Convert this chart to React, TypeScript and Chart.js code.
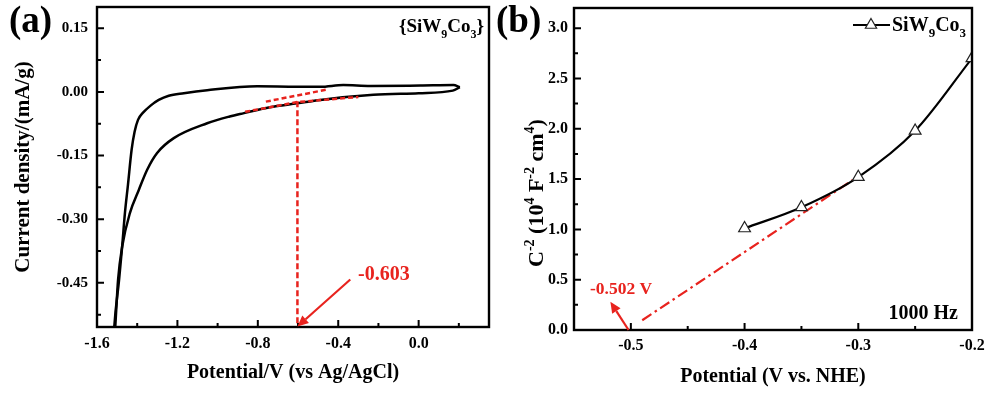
import React, { useEffect, useRef } from 'react';
import { Chart, registerables } from 'chart.js';

Chart.register(...registerables);

const SERIF = "'Liberation Serif', 'Times New Roman', Times, serif";
const INK = '#000000';
const RED = '#e8231e';

// ---------- (a) cyclic voltammogram ----------
// cathodic (forward) sweep: lower branch, listed by increasing potential
const cathodicPotential = [
  -1.516, -1.51, -1.495, -1.475, -1.436, -1.392, -1.351, -1.301, -1.218, -1.052, -0.94,
  -0.869, -0.74, -0.604, -0.49, -0.225, 0.0, 0.17, 0.205,
];
const cathodicCurrent = [
  -0.6, -0.56, -0.442, -0.365, -0.285, -0.231, -0.184, -0.144, -0.109, -0.074, -0.058,
  -0.05, -0.036, -0.027, -0.019, -0.007, -0.003, 0.003, 0.011,
];
// anodic (return) sweep: upper branch
const anodicPotential = [
  -1.519, -1.515, -1.49, -1.475, -1.461, -1.446, -1.428, -1.413, -1.396, -1.371, -1.335,
  -1.293, -1.243, -1.168, -1.052, -0.803, -0.604, -0.489, -0.375, -0.24, 0.009, 0.173, 0.205,
];
const anodicCurrent = [
  -0.6, -0.56, -0.442, -0.365, -0.285, -0.219, -0.137, -0.094, -0.066, -0.049, -0.033,
  -0.019, -0.009, -0.003, 0.004, 0.013, 0.012, 0.012, 0.016, 0.014, 0.015, 0.016, 0.011,
];
const tangentLowPotential = [-0.863, -0.604, -0.3];
const tangentLowCurrent = [-0.047, -0.024, -0.012];
const tangentHighPotential = [-0.76, -0.46];
const tangentHighCurrent = [-0.023, 0.005];
const onsetPotential = -0.603;
const onsetDropCurrent = [-0.022, -0.56];
const onsetArrowTail = { x: -0.34, y: -0.442 };
const onsetArrowHeadCurrent = -0.553;
const cvXTicks = [-1.6, -1.2, -0.8, -0.4, 0.0];
const cvXMinor = [-1.4, -1.0, -0.6, -0.2, 0.2];
const cvYTicks = [-0.45, -0.3, -0.15, 0.0, 0.15];
const cvYMinor = [-0.525, -0.375, -0.225, -0.075, 0.075];

// ---------- (b) Mott–Schottky ----------
const msPotential = [-0.4, -0.35, -0.3, -0.25, -0.2];
const msC2 = [1.01, 1.22, 1.52, 1.98, 2.7];
const fitPotential = [-0.49, -0.305];
const fitC2 = [0.097, 1.49];
const flatbandPotential = -0.502;
const flatbandArrowHead = { x: -0.518, y: 0.28 };
const msXTicks = [-0.5, -0.4, -0.3, -0.2];
const msXMinor = [-0.55, -0.45, -0.35, -0.25];
const msYTicks = [0, 0.5, 1.0, 1.5, 2.0, 2.5, 3.0];
const msYMinor = [0.25, 0.75, 1.25, 1.75, 2.25, 2.75];

type Run = { t: string; sub?: boolean; sup?: boolean };

function drawRuns(
  ctx: CanvasRenderingContext2D,
  runs: Run[],
  x: number,
  y: number,
  size: number,
  color: string,
  align: 'left' | 'right' | 'center',
) {
  const small = Math.round(size * 0.65);
  const fontOf = (r: Run) => `bold ${r.sub || r.sup ? small : size}px ${SERIF}`;
  let total = 0;
  for (const r of runs) {
    ctx.font = fontOf(r);
    total += ctx.measureText(r.t).width;
  }
  let cx = align === 'left' ? x : align === 'right' ? x - total : x - total / 2;
  ctx.fillStyle = color;
  ctx.textAlign = 'left';
  ctx.textBaseline = 'alphabetic';
  for (const r of runs) {
    ctx.font = fontOf(r);
    const dy = r.sub ? size * 0.3 : r.sup ? -size * 0.4 : 0;
    ctx.fillText(r.t, cx, y + dy);
    cx += ctx.measureText(r.t).width;
  }
}

function drawArrow(ctx: CanvasRenderingContext2D, x1: number, y1: number, x2: number, y2: number, color: string) {
  const ang = Math.atan2(y2 - y1, x2 - x1);
  const head = 11;
  const half = 5;
  const bx = x2 - Math.cos(ang) * head;
  const by = y2 - Math.sin(ang) * head;
  ctx.save();
  ctx.strokeStyle = color;
  ctx.fillStyle = color;
  ctx.lineWidth = 2.2;
  ctx.beginPath();
  ctx.moveTo(x1, y1);
  ctx.lineTo(bx, by);
  ctx.stroke();
  ctx.beginPath();
  ctx.moveTo(x2, y2);
  ctx.lineTo(bx + Math.sin(ang) * half, by - Math.cos(ang) * half);
  ctx.lineTo(bx - Math.sin(ang) * half, by + Math.cos(ang) * half);
  ctx.closePath();
  ctx.fill();
  ctx.restore();
}

// box frame plus inward-pointing major/minor tick marks on the bottom and left axes
function frameTicks(xMajor: number[], xMinor: number[], yMajor: number[], yMinor: number[]) {
  return {
    id: 'frameTicks',
    afterDraw(chart: any) {
      const { ctx, chartArea: a, scales } = chart;
      const xs = scales.x;
      const ys = scales.y;
      ctx.save();
      ctx.strokeStyle = INK;
      ctx.lineWidth = 2.4;
      ctx.strokeRect(a.left, a.top, a.right - a.left, a.bottom - a.top);
      ctx.lineWidth = 2;
      ctx.beginPath();
      const xMark = (v: number, len: number) => {
        const p = xs.getPixelForValue(v);
        if (p <= a.left + 1 || p >= a.right - 1) return;
        ctx.moveTo(p, a.bottom);
        ctx.lineTo(p, a.bottom - len);
      };
      const yMark = (v: number, len: number) => {
        const p = ys.getPixelForValue(v);
        if (p <= a.top + 1 || p >= a.bottom - 1) return;
        ctx.moveTo(a.left, p);
        ctx.lineTo(a.left + len, p);
      };
      xMajor.forEach((v) => xMark(v, 7));
      xMinor.forEach((v) => xMark(v, 4));
      yMajor.forEach((v) => yMark(v, 7));
      yMinor.forEach((v) => yMark(v, 4));
      ctx.stroke();
      ctx.restore();
    },
  };
}

const boldFont = (size: number) => ({ family: SERIF, size, weight: 'bold' as const });

function cvConfig(): any {
  const pts = (xs: number[], ys: number[]) => xs.map((x, i) => ({ x, y: ys[i] }));
  const annotate = {
    id: 'cvNotes',
    afterDraw(chart: any) {
      const { ctx, scales } = chart;
      const xs = scales.x;
      const ys = scales.y;
      ctx.save();
      drawRuns(ctx, [{ t: '(a)' }], 9, 32, 37, INK, 'left');
      drawRuns(ctx, [{ t: '{SiW' }, { t: '9', sub: true }, { t: 'Co' }, { t: '3', sub: true }, { t: '}' }], 484, 32, 19, INK, 'right');
      drawArrow(
        ctx,
        xs.getPixelForValue(onsetArrowTail.x),
        ys.getPixelForValue(onsetArrowTail.y),
        xs.getPixelForValue(onsetPotential),
        ys.getPixelForValue(onsetArrowHeadCurrent),
        RED,
      );
      drawRuns(ctx, [{ t: onsetPotential.toFixed(3) }], 358, 280, 20, RED, 'left');
      ctx.restore();
    },
  };
  const branch = (xs: number[], ys: number[]) => ({
    data: pts(xs, ys),
    showLine: true,
    borderColor: INK,
    borderWidth: 2.5,
    pointRadius: 0,
    cubicInterpolationMode: 'monotone',
  });
  const dashed = (data: { x: number; y: number }[], dash: number[]) => ({
    data,
    showLine: true,
    borderColor: RED,
    borderWidth: 2.5,
    borderDash: dash,
    pointRadius: 0,
  });
  return {
    type: 'scatter',
    data: {
      datasets: [
        dashed(pts(tangentLowPotential, tangentLowCurrent), [5, 3]),
        dashed(pts(tangentHighPotential, tangentHighCurrent), [5, 3]),
        dashed(onsetDropCurrent.map((y) => ({ x: onsetPotential, y })), [6, 3]),
        branch(cathodicPotential, cathodicCurrent),
        branch(anodicPotential, anodicCurrent),
      ],
    },
    options: {
      responsive: false,
      animation: false,
      devicePixelRatio: 1,
      events: [],
      layout: { padding: { left: 0, right: 6, top: 7, bottom: 0 } },
      plugins: { legend: { display: false }, tooltip: { enabled: false } },
      scales: {
        x: {
          type: 'linear',
          min: -1.6,
          max: 0.35,
          afterBuildTicks: (s: any) => {
            s.ticks = cvXTicks.map((value) => ({ value }));
          },
          afterFit: (s: any) => {
            s.height = 69;
            s.paddingLeft = 0;
            s.paddingRight = 0;
          },
          grid: { display: false, drawTicks: false },
          border: { display: false },
          ticks: {
            callback: (v: any) => Number(v).toFixed(1),
            font: boldFont(16),
            color: INK,
            padding: 7,
            maxRotation: 0,
            autoSkip: false,
          },
          title: {
            display: true,
            text: 'Potential/V (vs Ag/AgCl)',
            font: boldFont(20),
            color: INK,
            padding: { top: 0, bottom: 11 },
          },
        },
        y: {
          type: 'linear',
          min: -0.554,
          max: 0.2,
          afterBuildTicks: (s: any) => {
            s.ticks = cvYTicks.map((value) => ({ value }));
          },
          afterFit: (s: any) => {
            s.width = 97;
            s.paddingTop = 0;
            s.paddingBottom = 0;
          },
          grid: { display: false, drawTicks: false },
          border: { display: false },
          ticks: {
            callback: (v: any) => Number(v).toFixed(2),
            font: boldFont(15),
            color: INK,
            padding: 9,
            autoSkip: false,
          },
          title: {
            display: true,
            text: 'Current density/(mA/g)',
            font: boldFont(21),
            color: INK,
            padding: { top: 11, bottom: 0 },
          },
        },
      },
    },
    plugins: [frameTicks(cvXTicks, cvXMinor, cvYTicks, cvYMinor), annotate],
  };
}

function msConfig(): any {
  const pts = (xs: number[], ys: number[]) => xs.map((x, i) => ({ x, y: ys[i] }));
  const annotate = {
    id: 'msNotes',
    afterDraw(chart: any) {
      const { ctx, scales } = chart;
      const xs = scales.x;
      const ys = scales.y;
      ctx.save();
      drawRuns(ctx, [{ t: '(b)' }], 1, 32, 37, INK, 'left');

      // legend entry
      const ly = 25;
      ctx.strokeStyle = INK;
      ctx.lineWidth = 2;
      ctx.beginPath();
      ctx.moveTo(358, ly);
      ctx.lineTo(395, ly);
      ctx.stroke();
      const r = 6.5;
      const cx = 376;
      ctx.beginPath();
      ctx.moveTo(cx, ly - r);
      ctx.lineTo(cx + r * 0.866, ly + r / 2);
      ctx.lineTo(cx - r * 0.866, ly + r / 2);
      ctx.closePath();
      ctx.fillStyle = '#ffffff';
      ctx.fill();
      ctx.lineWidth = 1.2;
      ctx.strokeStyle = '#222222';
      ctx.stroke();
      drawRuns(ctx, [{ t: 'SiW' }, { t: '9', sub: true }, { t: 'Co' }, { t: '3', sub: true }], 397, 31, 20, INK, 'left');

      drawRuns(ctx, [{ t: '1000 Hz' }], 463, 319, 20, INK, 'right');

      drawArrow(
        ctx,
        xs.getPixelForValue(flatbandPotential),
        ys.getPixelForValue(0),
        xs.getPixelForValue(flatbandArrowHead.x),
        ys.getPixelForValue(flatbandArrowHead.y),
        RED,
      );
      drawRuns(ctx, [{ t: `${flatbandPotential.toFixed(3)} V` }], 95, 294, 17.5, RED, 'left');

      // rotated y-axis title with superscripts
      ctx.save();
      ctx.translate(48, 193);
      ctx.rotate(-Math.PI / 2);
      drawRuns(
        ctx,
        [
          { t: 'C' },
          { t: '-2', sup: true },
          { t: ' (10' },
          { t: '4', sup: true },
          { t: ' F' },
          { t: '-2', sup: true },
          { t: ' cm' },
          { t: '4', sup: true },
          { t: ')' },
        ],
        0,
        0,
        22,
        INK,
        'center',
      );
      ctx.restore();
      ctx.restore();
    },
  };
  return {
    type: 'scatter',
    data: {
      datasets: [
        {
          data: pts(msPotential, msC2),
          showLine: true,
          borderColor: INK,
          borderWidth: 2.2,
          cubicInterpolationMode: 'monotone',
          pointStyle: 'triangle',
          pointRadius: 6.8,
          pointBackgroundColor: '#ffffff',
          pointBorderColor: '#222222',
          pointBorderWidth: 1.2,
        },
        {
          data: pts(fitPotential, fitC2),
          showLine: true,
          borderColor: RED,
          borderWidth: 2.2,
          borderDash: [11, 4, 2.5, 4],
          pointRadius: 0,
        },
      ],
    },
    options: {
      responsive: false,
      animation: false,
      devicePixelRatio: 1,
      events: [],
      layout: { padding: { left: 0, right: 18, top: 7, bottom: 0 } },
      plugins: { legend: { display: false }, tooltip: { enabled: false } },
      scales: {
        x: {
          type: 'linear',
          min: -0.55,
          max: -0.2,
          afterBuildTicks: (s: any) => {
            s.ticks = msXTicks.map((value) => ({ value }));
          },
          afterFit: (s: any) => {
            s.height = 66;
            s.paddingLeft = 0;
            s.paddingRight = 0;
          },
          grid: { display: false, drawTicks: false },
          border: { display: false },
          ticks: {
            callback: (v: any) => Number(v).toFixed(1),
            font: boldFont(16),
            color: INK,
            padding: 6,
            maxRotation: 0,
            autoSkip: false,
          },
          title: {
            display: true,
            text: 'Potential (V vs. NHE)',
            font: boldFont(20),
            color: INK,
            padding: { top: 0, bottom: 7 },
          },
        },
        y: {
          type: 'linear',
          min: 0,
          max: 3.2,
          afterBuildTicks: (s: any) => {
            s.ticks = msYTicks.map((value) => ({ value }));
          },
          afterFit: (s: any) => {
            s.width = 79;
            s.paddingTop = 0;
            s.paddingBottom = 0;
          },
          grid: { display: false, drawTicks: false },
          border: { display: false },
          ticks: {
            callback: (v: any) => Number(v).toFixed(1),
            font: boldFont(16),
            color: INK,
            padding: 6,
            autoSkip: false,
          },
        },
      },
    },
    plugins: [frameTicks(msXTicks, msXMinor, msYTicks, msYMinor), annotate],
  };
}

export default function App() {
  const leftRef = useRef<HTMLCanvasElement>(null);
  const rightRef = useRef<HTMLCanvasElement>(null);

  useEffect(() => {
    const a = new Chart(leftRef.current as HTMLCanvasElement, cvConfig());
    const b = new Chart(rightRef.current as HTMLCanvasElement, msConfig());
    return () => {
      a.destroy();
      b.destroy();
    };
  }, []);

  return (
    <div style={{ position: 'fixed', left: 0, top: 0, width: 990, height: 396, background: '#ffffff' }}>
      <canvas
        ref={leftRef}
        width={495}
        height={396}
        style={{ position: 'absolute', left: 0, top: 0, width: 495, height: 396 }}
      />
      <canvas
        ref={rightRef}
        width={495}
        height={396}
        style={{ position: 'absolute', left: 495, top: 0, width: 495, height: 396 }}
      />
    </div>
  );
}
